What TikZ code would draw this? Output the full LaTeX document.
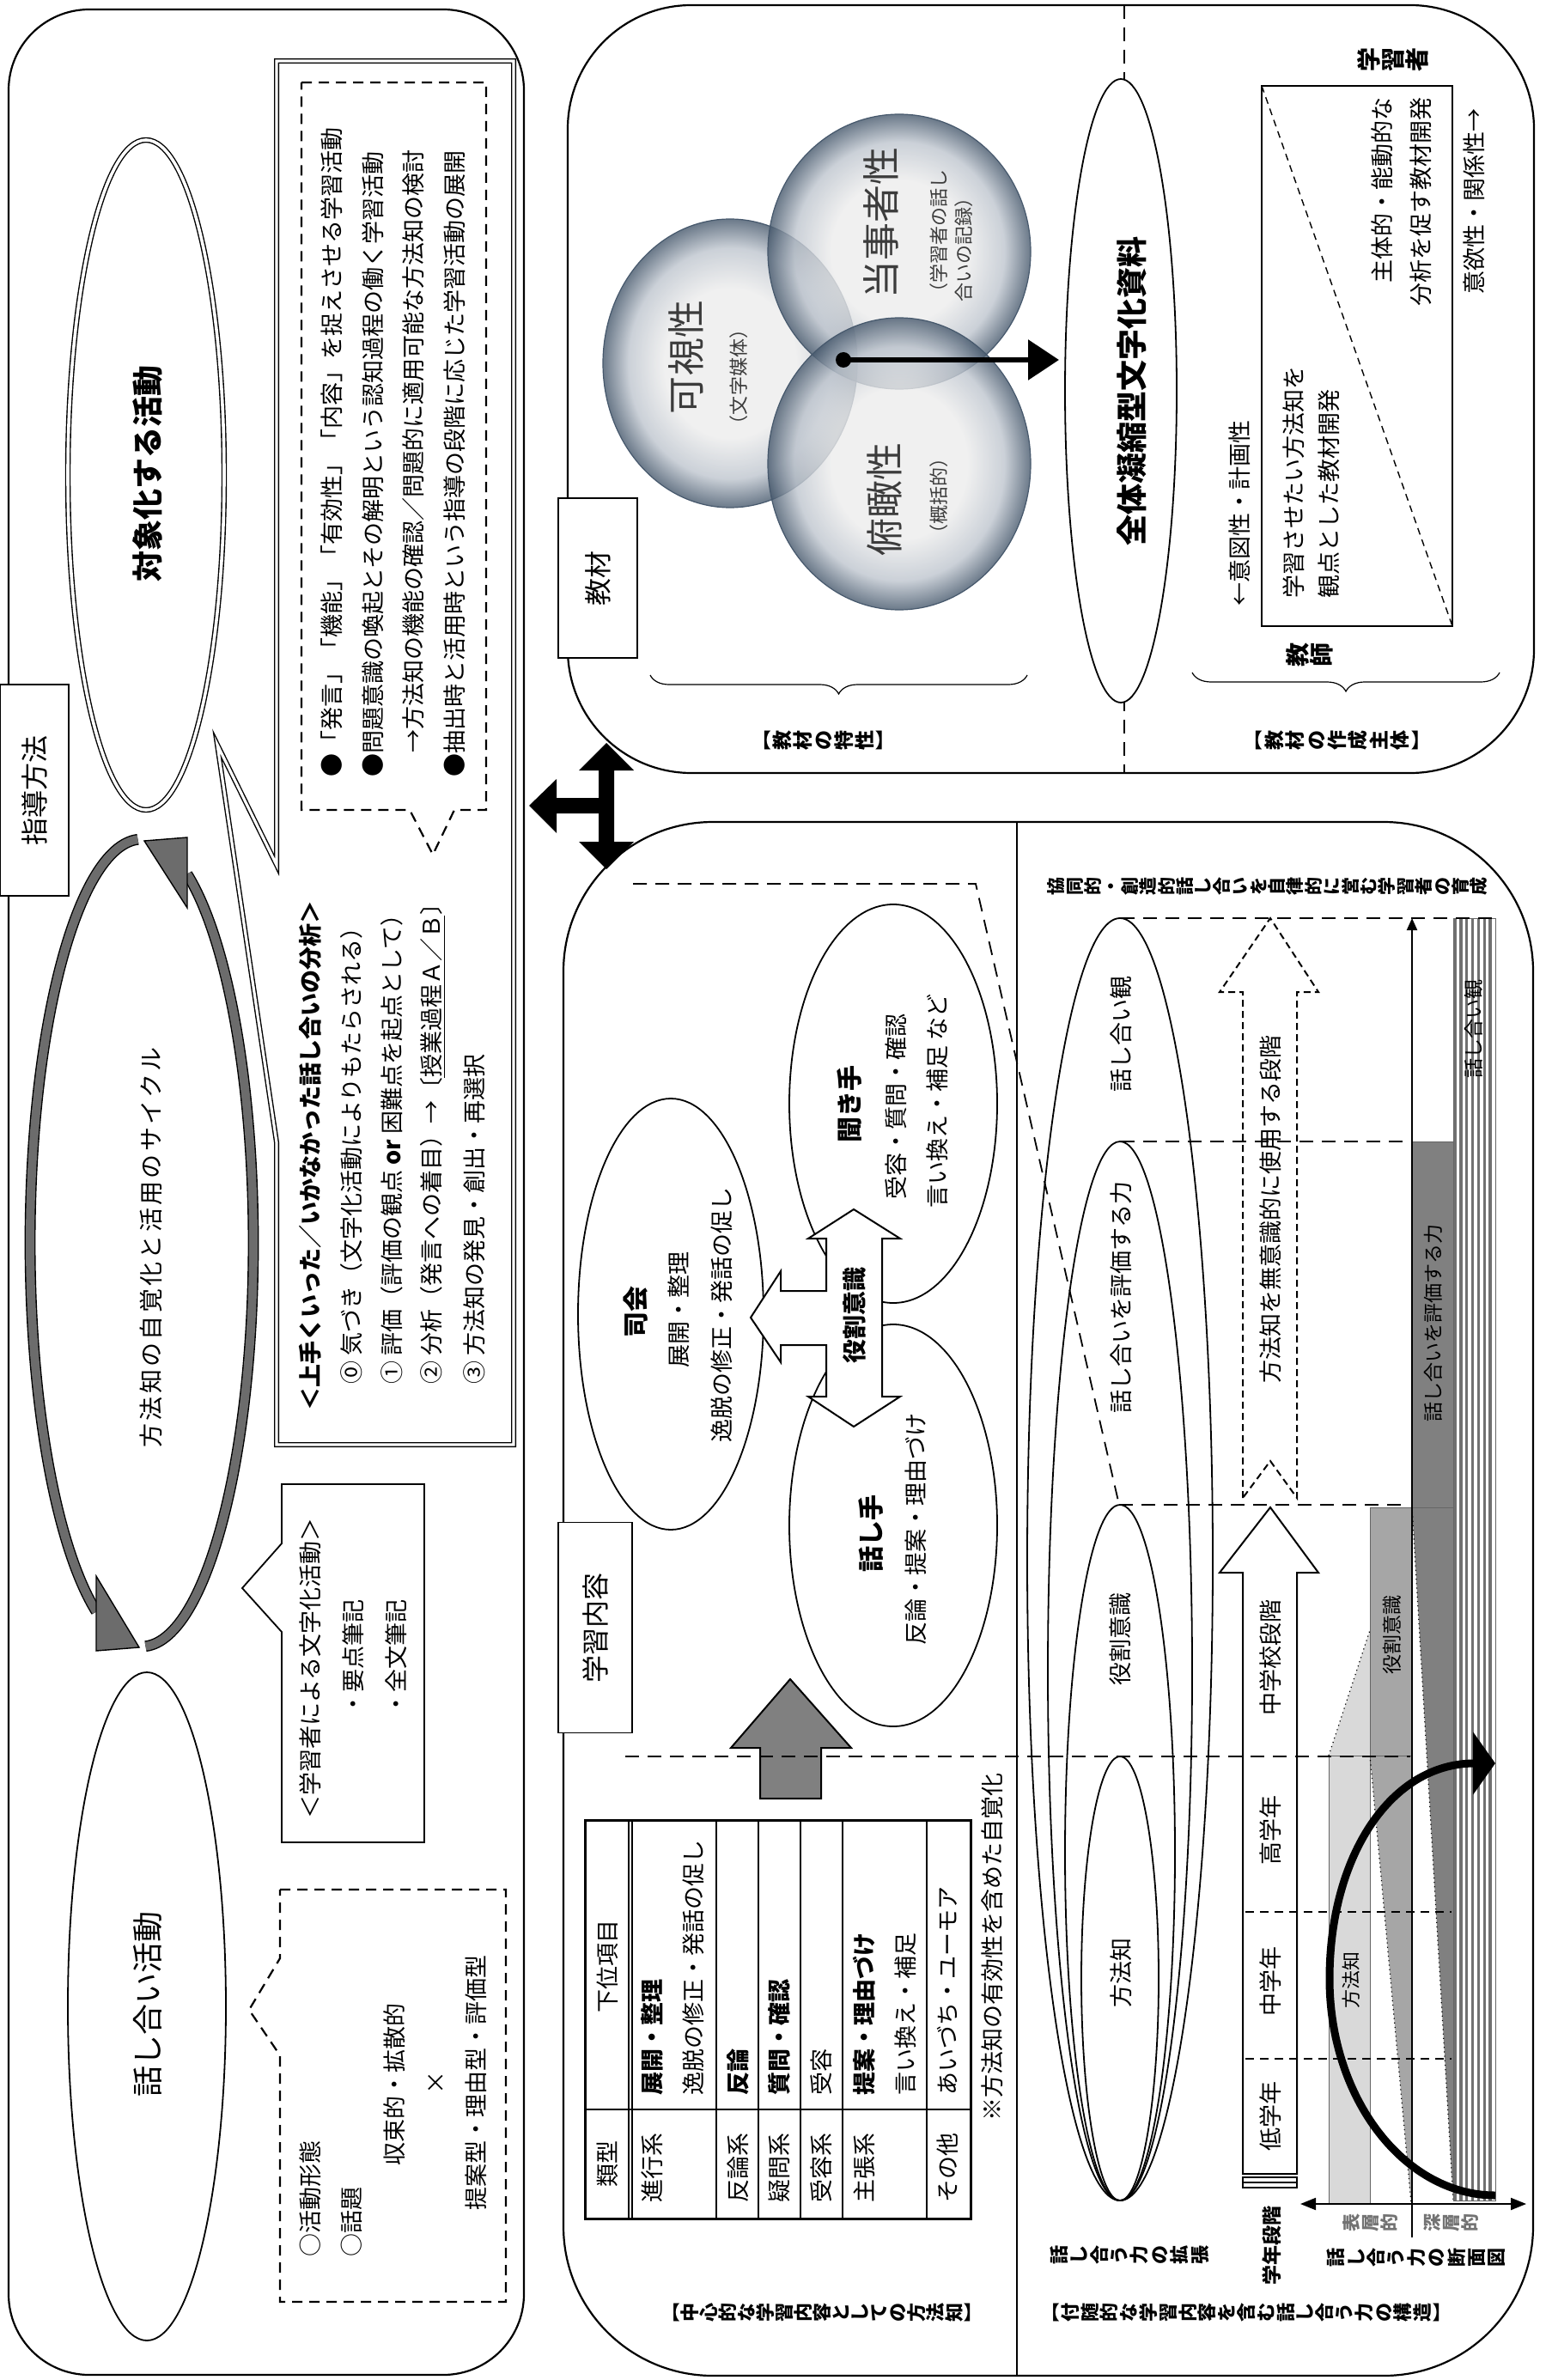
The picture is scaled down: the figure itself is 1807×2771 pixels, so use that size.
\documentclass[tikz,border=0pt]{standalone}
\usepackage{fontspec}
\setmainfont{Noto Sans CJK JP}
\usepackage{tikz}
\usetikzlibrary{decorations.pathreplacing,arrows.meta}

\definecolor{bubin}{RGB}{236,236,236}
\definecolor{bubmid}{RGB}{190,197,206}
\definecolor{bubout}{RGB}{70,88,108}
\definecolor{layA}{RGB}{217,217,217}
\definecolor{layB}{RGB}{166,166,166}
\definecolor{layC}{RGB}{128,128,128}
\definecolor{stripe}{RGB}{112,112,112}
\definecolor{venntext}{RGB}{60,60,60}
\pgfdeclareradialshading{vennball}{\pgfpointorigin}{color(0bp)=(bubin); color(13bp)=(bubin); color(20bp)=(bubmid); color(25bp)=(bubout); color(50bp)=(bubout)}

\makeatletter
\def\tate@end{\tate@end}
\newcommand\tategaki[1]{\tate@a#1\tate@end}
\def\tate@a#1{#1\@ifnextchar\tate@end{\@gobble}{\\\tate@a}}
\makeatother

\begin{document}
\begin{tikzpicture}[x=0.5pt,y=0.5pt,yscale=-1,xscale=1,
  txt/.style={rotate=90,inner sep=0pt,font=\fontsize{13.5}{16}\selectfont},
  txtb/.style={rotate=90,inner sep=0pt,font=\bfseries\fontsize{13.5}{16}\selectfont},
  tate/.style={rotate=90,inner sep=0pt,align=center,font=\bfseries\fontsize{11}{11.7}\selectfont},
  tab/.style={rotate=90,draw,line width=0.6pt,fill=white,inner sep=0pt,font=\fontsize{16}{18}\selectfont},
  panel/.style={line width=1.1pt},
  dashbox/.style={dash pattern=on 6pt off 4pt,line width=1.1pt},
  longdash/.style={dash pattern=on 8pt off 5pt,line width=0.9pt},
  shortdash/.style={dash pattern=on 5pt off 3.5pt,line width=1.1pt},
  cycband/.style={draw=black,line width=0.7pt,double=gray!85!black,double distance=5pt},
  cyctip/.style={fill=gray!85!black,draw=black,line width=0.7pt},
  venn/.style={shading=vennball,fill opacity=0.8,draw=bubout,line width=0.6pt},
  venntxt/.style={rotate=90,inner sep=0pt,text=venntext,font=\fontsize{22}{24}\selectfont},
  vennsub/.style={rotate=90,inner sep=0pt,text=venntext,font=\fontsize{11}{12}\selectfont},
  bracelab/.style={decorate,decoration={brace,amplitude=11pt},line width=0.6pt},
  layer/.style={draw=black!60,line width=0.4pt},
]
\useasboundingbox (0,0) rectangle (1807,2771);

%Shape: Rounded Rectangle [指導方法]
\draw [panel,rounded corners=47pt] (10,11) rectangle (610,2765);
%Shape: Rounded Rectangle [教材]
\draw [panel,rounded corners=72pt] (661,6) rectangle (1786,900);
%Shape: Rounded Rectangle [学習内容]
\draw [panel,rounded corners=87pt] (656,957) rectangle (1785,2766);

%Shape: Ellipse [対象化する活動]
\draw [double,line width=0.7pt,double distance=1.8pt] (170,553) ellipse [x radius=91, y radius=390];
% Text Node
\node (taisho) [txtb,font=\bfseries\fontsize{18}{20}\selectfont] at (172,551) {対象化する活動};

%Shape: Callout [分析]
\draw [double,line width=0.7pt,double distance=1.6pt,fill=white] (322,71) -- (598,71) -- (598,1682) -- (322,1682) -- (322,1330) -- (253,867) -- (322,1007) -- cycle;
%Shape: Dashed Callout
\draw [dashbox] (351,96) -- (566,96) -- (566,943) -- (529,943) -- (504,995) -- (477,943) -- (351,943) -- cycle;
% Text Node
\node (b1) [txt,anchor=west] at (386,905) {●「発言」「機能」「有効性」「内容」を捉えさせる学習活動};
\node (b2) [txt,anchor=west] at (434,905) {●問題意識の喚起とその解明という認知過程の働く学習活動};
\node (b3) [txt,anchor=west] at (481,877) {→方法知の機能の確認／問題的に適用可能な方法知の検討};
\node (b4) [txt,anchor=west] at (529,905) {●抽出時と活用時という指導の段階に応じた学習活動の展開};
% Text Node
\node (an0) [txtb,anchor=west] at (361,1643) {＜上手くいった／いかなかった話し合いの分析＞};
\node (an1) [txt,anchor=west] at (409,1612) {⓪ 気づき（文字化活動によりもたらされる）};
\node (an2) [txt,anchor=west] at (456,1612) {① 評価（評価の観点 \textbf{or} 困難点を起点として）};
\node (an3) [txt,anchor=west] at (504,1612) {② 分析（発言への着目）→〔\underline{授業過程Ａ／Ｂ}〕};
\node (an4) [txt,anchor=west] at (552,1612) {③ 方法知の発見・創出・再選択};

%Curve Lines [サイクル]
\draw [cycband] (160.5,977.3) arc [start angle=268, end angle=114, x radius=130, y radius=470];
\filldraw [cyctip] (112,1835) -- (162,1918) -- (112,1922) -- cycle;
\draw [cycband] (169.5,1916.7) arc [start angle=88, end angle=-66, x radius=130, y radius=470];
\filldraw [cyctip] (218,975) -- (168,979) -- (218,1057) -- cycle;
% Text Node
\node (cycle) [txt,font=\fontsize{14}{16}\selectfont\addfontfeatures{LetterSpace=12},anchor=west] at (176,1686) {方法知の自覚化と活用のサイクル};

%Shape: Ellipse [話し合い活動]
\draw [line width=0.9pt] (171,2336) ellipse [x radius=92, y radius=389];
\node (hanashiai) [txt,font=\fontsize{18}{20}\selectfont] at (172,2333) {話し合い活動};

%Shape: Callout [文字化活動]
\draw [line width=0.9pt,fill=white] (328,1728) -- (494,1728) -- (494,2145) -- (328,2145) -- (328,1900) -- (282,1849) -- (328,1797) -- cycle;
\node (moji0) [txt,anchor=west] at (361,2118) {＜学習者による文字化活動＞};
\node (moji1) [txt,anchor=west] at (411,1998) {・要点筆記};
\node (moji2) [txt,anchor=west] at (461,1998) {・全文筆記};

%Shape: Dashed Callout [活動形態]
\draw [dashbox] (326,2200) -- (589,2200) -- (589,2680) -- (326,2680) -- (326,2393) -- (290,2340) -- (326,2280) -- cycle;
\node (kat1) [txt,anchor=west] at (361,2628) {○活動形態};
\node (kat2) [txt,anchor=west] at (409,2628) {○話題};
\node (kat3) [txt] at (459,2427) {収束的・拡散的};
\node (kat4) [txt] at (508,2425) {×};
\node (kat5) [txt] at (554,2425) {提案型・理由型・評価型};

%Shape: Three-way Arrow
\fill (706,865) -- (738,897) -- (715,897) -- (715,980) -- (738,980) -- (706,1012) -- (674,980) -- (697,980) -- (697,947) -- (648,947) -- (648,970) -- (616,938) -- (648,907) -- (648,929) -- (697,929) -- (697,897) -- (674,897) -- cycle;

%Straight Lines [教材 divider]
\draw [longdash] (1309,6) -- (1309,900);
%Shape: Venn
\shadedraw [venn] (850,423) ellipse [x radius=148, y radius=168];
\shadedraw [venn] (1047,293) ellipse [x radius=153, y radius=160];
\shadedraw [venn] (1047,540) ellipse [x radius=153, y radius=170];
% Text Node
\node (kashi) [venntxt] at (799,416) {可視性};
\node (kashiS) [vennsub] at (860,439) {（文字媒体）};
\node (tojisha) [venntxt] at (1026,260) {当事者性};
\node (tojishaS1) [vennsub,anchor=west] at (1093,352) {（学習者の話し};
\node (tojishaS2) [vennsub,anchor=west] at (1122,352) {合いの記録）};
\node (fukan) [venntxt] at (1030,581) {俯瞰性};
\node (fukanS) [vennsub] at (1093,577) {（概括的）};
%Straight Lines [venn arrow]
\coordinate (vdot) at (982,419);
\coordinate (vtip) at (1233,419);
\fill (vdot) circle [radius=9];
\draw [line width=3pt,-{Triangle[length=18pt,width=23pt]}] (vdot) -- (vtip);

%Shape: Ellipse [全体凝縮型文字化資料]
\draw [line width=0.9pt,fill=white] (1305,455) ellipse [x radius=65, y radius=363];
\node (zentai) [txtb,font=\bfseries\fontsize{18}{20}\selectfont] at (1318,455) {全体凝縮型文字化資料};

%Shape: Rectangle [作成主体]
\draw [line width=1pt] (1469,100) rectangle (1691,729);
\draw [dash pattern=on 4pt off 3pt,line width=0.7pt] (1469,100) -- (1691,729);
\node (ito) [txt,anchor=west] at (1443,706) {←意図性・計画性};
\node (gakushu1) [txt,anchor=west] at (1506,697) {学習させたい方法知を};
\node (gakushu2) [txt,anchor=west] at (1547,697) {観点とした教材開発};
\node (shutai1) [txt,anchor=east] at (1609,113) {主体的・能動的な};
\node (shutai2) [txt,anchor=east] at (1654,113) {分析を促す教材開発};
\node (iyoku) [txt,anchor=east] at (1716,126) {意欲性・関係性→};
\node (kyoshi) [tate,font=\bfseries\fontsize{14}{14}\selectfont] at (1525,762) {\tategaki{教師}};
\node (gakushusha) [tate,font=\bfseries\fontsize{14}{14}\selectfont] at (1622,70) {\tategaki{学習者}};

%Braces
\draw [bracelab] (1196,786) -- (757,786);
\node (lblTokusei) [tate,font=\bfseries\fontsize{11.5}{12}\selectfont] at (965,862) {\tategaki{︻教材の特性︼}};
\draw [bracelab] (1746,783) -- (1388,783);
\node (lblShutai) [tate,font=\bfseries\fontsize{11.5}{12.2}\selectfont] at (1563,862) {\tategaki{︻教材の作成主体︼}};

%Straight Lines [学習内容 divider]
\draw [line width=1.1pt] (1184,957) -- (1184,2766);

%Shape: Ellipse [roles]
\draw [line width=0.9pt] (781,1530) ellipse [x radius=108, y radius=251];
\draw [line width=0.9pt] (1040,1285) ellipse [x radius=121, y radius=232];
\draw [line width=0.9pt] (1040,1776) ellipse [x radius=121, y radius=234];
%Shape: Cross Arrow [役割意識]
\draw [line width=1pt,fill=white] (994,1408) -- (1048,1442) -- (1027,1442) -- (1027,1626) -- (1048,1626) -- (994,1661) -- (941,1626) -- (962,1626) -- (962,1566) -- (909,1566) -- (909,1586) -- (874,1534) -- (909,1480) -- (909,1503) -- (962,1503) -- (962,1442) -- (941,1442) -- cycle;
% Text Node
\node (shikai) [txtb,font=\bfseries\fontsize{15}{17}\selectfont] at (740,1527) {司会};
\node (shikai1) [txt] at (790,1525) {展開・整理};
\node (shikai2) [txt] at (840,1531) {逸脱の修正・発話の促し};
\node (kikite) [txtb,font=\bfseries\fontsize{15}{17}\selectfont] at (989,1285) {聞き手};
\node (kikite1) [txt] at (1043,1288) {受容・質問・確認};
\node (kikite2) [txt] at (1091,1282) {言い換え・補足 など};
\node (hanashite) [txtb,font=\bfseries\fontsize{15}{17}\selectfont] at (1014,1785) {話し手};
\node (hanashite1) [txt] at (1066,1780) {反論・提案・理由づけ};
\node (yakuwari) [txtb,font=\bfseries\fontsize{14}{16}\selectfont] at (995,1531) {役割意識};

%Shape: Up Arrow [gray]
\draw [line width=1pt,fill=layC] (920,1955) -- (991,2035) -- (956,2035) -- (956,2094) -- (885,2094) -- (885,2035) -- (851,2035) -- cycle;

%Shape: Table
\draw [line width=1.5pt] (681,2119) rectangle (1130,2583);
\foreach \rx in {732,736,834,883,932,981,1079} \draw [line width=1.2pt] (\rx,2119) -- (\rx,2583);
\draw [line width=1.2pt] (681,2456) -- (1130,2456);
\node (thRui) [txt] at (707,2519) {類型};
\node (thKai) [txt] at (707,2289) {下位項目};
\node (tr1) [txt,anchor=west] at (759,2565) {進行系};
\node (tr2) [txt,anchor=west] at (859,2565) {反論系};
\node (tr3) [txt,anchor=west] at (907,2565) {疑問系};
\node (tr4) [txt,anchor=west] at (956,2565) {受容系};
\node (tr5) [txt,anchor=west] at (1006,2565) {主張系};
\node (tr6) [txt,anchor=west] at (1103,2565) {その他};
\node (ti1) [txtb,anchor=west] at (759,2440) {展開・整理};
\node (ti2) [txt,anchor=west] at (807,2440) {逸脱の修正・発話の促し};
\node (ti3) [txtb,anchor=west] at (859,2440) {反論};
\node (ti4) [txtb,anchor=west] at (907,2440) {質問・確認};
\node (ti5) [txt,anchor=west] at (956,2440) {受容};
\node (ti6) [txtb,anchor=west] at (1006,2440) {提案・理由づけ};
\node (ti7) [txt,anchor=west] at (1054,2440) {言い換え・補足};
\node (ti8) [txt,anchor=west] at (1103,2440) {あいづち・ユーモア};
\node (tnote) [txt,anchor=west] at (1155,2470) {※方法知の有効性を含めた自覚化};

%Shape: Layers [断面図]
\fill [layA] (1547,2566) -- (1547,2044) -- (1595,1898) -- (1595,2566) -- cycle;
\fill [layB] (1595,1755) -- (1643,1755) -- (1643,2565) -- (1595,2044) -- cycle;
\fill [layC] (1644,1329) -- (1692,1329) -- (1692,2562) -- (1644,1755) -- cycle;
\draw [layer] (1547,2044) rectangle (1595,2566);
\draw [layer] (1595,1755) rectangle (1643,2044);
\draw [layer] (1644,1329) rectangle (1692,1755);
\draw [dotted,line width=0.6pt] (1547,2044) -- (1595,1898);
\draw [dotted,line width=0.6pt] (1595,2044) -- (1643,2565);
\draw [dotted,line width=0.6pt] (1644,1755) -- (1692,2562);
\foreach \k in {0,...,6} \fill [stripe] ({1692+6.9*\k},1069) rectangle ({1695.6+6.9*\k},2562);
\draw [layer] (1692,1069) rectangle (1741,2562);
\node (lyA) [txt,font=\fontsize{11}{13}\selectfont] at (1573,2305) {方法知};
\node (lyB) [txt,font=\fontsize{11.5}{13}\selectfont] at (1621,1903) {役割意識};
\node (lyC) [txt,font=\fontsize{11.5}{13}\selectfont] at (1669,1540) {話し合いを評価する力};
\node (lyD) [txt,font=\fontsize{11.5}{13}\selectfont] at (1716,1198) {話し合い観};

%Shape: Nested Ellipses [拡張]
\draw [line width=0.9pt] (1304,1815.5) ellipse [x radius=108, y radius=746.5];
\draw [line width=0.9pt] (1304,1945.5) ellipse [x radius=84, y radius=616.5];
\draw [line width=0.9pt] (1304,2157) ellipse [x radius=64, y radius=405];
\draw [line width=0.9pt] (1304,2303.5) ellipse [x radius=45, y radius=258.5];
\node (ovKan) [txt] at (1305,1204) {話し合い観};
\node (ovHyoka) [txt] at (1305,1510) {話し合いを評価する力};
\node (ovYaku) [txt] at (1304,1908) {役割意識};
\node (ovHoho) [txt] at (1305,2297) {方法知};

%Shape: Arrows [学年段階]
\draw [dash pattern=on 4pt off 2.5pt,line width=1pt] (1447,1744) -- (1447,1155) -- (1420,1155) -- (1479,1069) -- (1535,1155) -- (1510,1155) -- (1510,1744) -- (1479,1701) -- cycle;
\node (muishiki) [txt] at (1479,1408) {方法知を無意識的に使用する段階};
\draw [line width=1pt,fill=white] (1479,1755) -- (1535,1831) -- (1510,1831) -- (1510,2531) -- (1447,2531) -- (1447,1831) -- (1420,1831) -- cycle;
\draw [line width=0.8pt] (1447,2535) rectangle (1510,2547);
\draw [line width=0.8pt] (1447,2541) -- (1510,2541);
\node (stChu) [txt] at (1479,1930) {中学校段階};
\node (stKo) [txt] at (1479,2131) {高学年};
\node (stNaka) [txt] at (1479,2307) {中学年};
\node (stTei) [txt] at (1479,2464) {低学年};

%Straight Lines [dashed levels]
\draw [longdash] (737,1029) -- (1136,1029) -- (1303,1752);
\draw [longdash] (1305,1069) -- (1741,1069);
\draw [longdash] (1305,1329) -- (1644,1329);
\draw [longdash] (1303,1752) -- (1638,1752);
\draw [longdash] (728,2045) -- (1642,2045);
\draw [shortdash] (1450,2226) -- (1690,2226);
\draw [shortdash] (1450,2397) -- (1690,2397);

%Straight Lines [axes]
\coordinate (axL) at (1514,2566);
\coordinate (axR) at (1777,2566);
\coordinate (axB) at (1644,2605);
\coordinate (axT) at (1644,1069);
\draw [line width=1pt,{Triangle[length=9pt,width=7pt]}-{Triangle[length=9pt,width=7pt]}] (axL) -- (axR);
\draw [line width=1pt,-{Triangle[length=7pt,width=6pt]}] (axB) -- (axT);

%Curve Lines [deepening]
\coordinate (cvS) at (1741,2556);
\coordinate (cvE) at (1741,2053);
\draw [line width=4.5pt,-{Triangle[length=13pt,width=36pt]}] (cvS) .. controls (1635,2556) and (1548,2443) .. (1548,2304) .. controls (1548,2160) and (1620,2053) .. (cvE);

% Text Node [labels]
\node (hyoso) [tate,font=\bfseries\fontsize{10.5}{11}\selectfont,text=black!55] at (1595,2588) {\tategaki{表層的}};
\node (shinso) [tate,font=\bfseries\fontsize{10.5}{11}\selectfont,text=black!55] at (1690,2588) {\tategaki{深層的}};
\node (danmen) [tate] at (1649,2628) {\tategaki{話し合う力の断面図}};
\node (gakunen) [txtb,font=\bfseries\fontsize{11.5}{13}\selectfont] at (1481,2614) {学年段階};
\node (kakucho) [tate] at (1315,2625) {\tategaki{話し合う力の拡張}};
\node (kozo) [tate,font=\bfseries\fontsize{11}{11.4}\selectfont] at (1457,2692) {\tategaki{︻付随的な学習内容を含む話し合う力の構造︼}};
\node (chushin) [tate,font=\bfseries\fontsize{11}{11}\selectfont] at (963,2692) {\tategaki{︻中心的な学習内容としての方法知︼}};
\node (kyodo) [tate,font=\bfseries\fontsize{10.5}{10.7}\selectfont] at (1476,1032) {\tategaki{協同的・創造的話し合いを自律的に営む学習者の育成}};

%Shape: Tabs
\node (tabShido) [tab,minimum width=123pt,minimum height=40pt] at (40,920) {指導方法};
\node (tabKyozai) [tab,minimum width=93pt,minimum height=46pt] at (696,673) {教材};
\node (tabNaiyo) [tab,minimum width=122.5pt,minimum height=43pt] at (693,1895) {学習内容};

\end{tikzpicture}
\end{document}
